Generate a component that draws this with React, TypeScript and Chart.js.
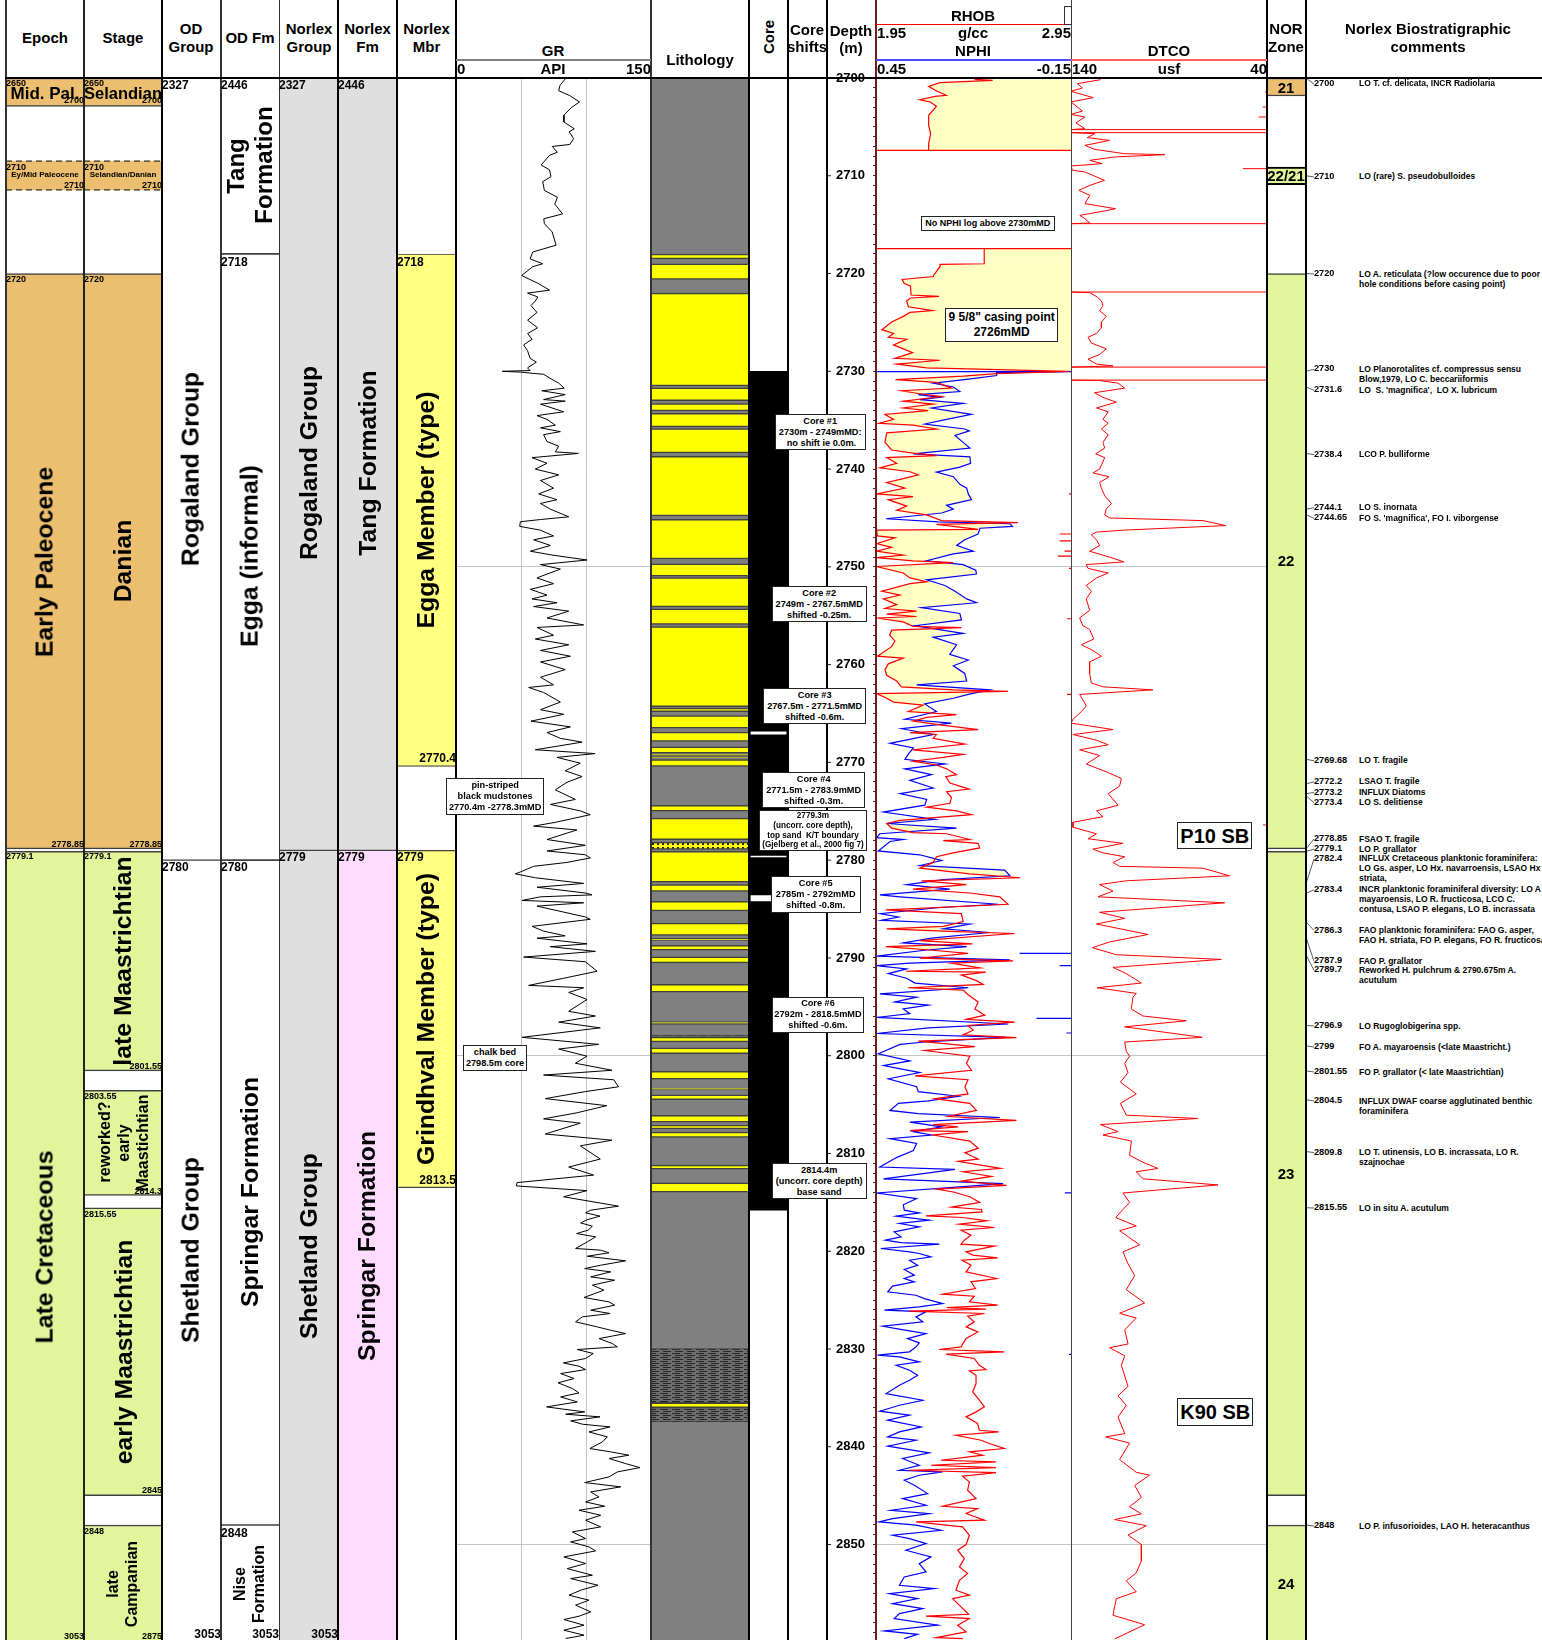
import React, { useEffect, useRef } from 'react';
import { Chart, registerables } from 'chart.js';
Chart.register(...registerables);

const DEPTH_MIN = 2700;
const PX_PER_M = 9.777;
const TOP = 78;
const HEIGHT = 1640 - TOP;
const DEPTH_MAX = DEPTH_MIN + HEIGHT / PX_PER_M;
const END = 2860;

/* ---------- interval tracks (depth tops and bases, m) ---------- */
const EPOCH_ORANGE = [[2700, 2702.9], [2720, 2778.85]];
const EPOCH_DASHED = [[2708.5, 2711.45]];
const EPOCH_GREEN = [[2779.1, END]];
const STAGE_ORANGE = [[2700, 2702.9], [2720, 2778.85]];
const STAGE_DASHED = [[2708.5, 2711.45]];
const STAGE_GREEN = [[2779.1, 2801.55], [2803.55, 2814.3], [2815.55, 2845], [2848, END]];
const OD_GROUP = [[2700, 2780], [2780, END]];
const OD_FM = [[2700, 2718], [2718, 2780], [2780, 2848], [2848, END]];
const NOR_GROUP = [[2700, 2779], [2779, END]];
const NOR_FM_GREY = [[2700, 2779]];
const NOR_FM_PINK = [[2779, END]];
const NOR_MBR = [[2718, 2770.4], [2779, 2813.5]];
const ZONE_ORANGE = [[2700, 2701.84]];
const ZONE_BOXED = [[2709.1, 2710.9]];
const ZONE_GREEN = [[2720, 2778.85], [2779.1, 2845], [2848, END]];
const DASH_DEPTHS = [2708.5, 2711.45];

const LITH_SHALE = [[2700, END]];
const LITH_SAND = [
  [2718, 2718.5], [2719, 2720.6], [2722, 2731.5], [2731.7, 2733], [2733.3, 2734.05], [2734.3, 2735.7], [2735.85, 2738.35],
  [2738.7, 2744.8], [2745.15, 2749.2], [2749.7, 2750.95], [2751.1, 2754.1], [2754.3, 2755.9], [2756.1, 2764.3],
  [2764.45, 2764.8], [2765.2, 2766.5], [2766.9, 2767.85], [2768.4, 2769.05], [2769.15, 2769.3], [2769.4, 2769.55],
  [2769.7, 2770.4], [2774.4, 2775], [2775.7, 2777.9], [2779.1, 2782.25], [2782.5, 2783.2], [2784.2, 2785.2],
  [2786.44, 2787.7], [2788, 2788.2], [2788.7, 2789.2], [2789.9, 2790.5], [2792.7, 2793.5], [2796.5, 2796.8],
  [2798.1, 2798.6], [2799.2, 2799.8], [2801.6, 2802.4], [2803.3, 2803.5], [2804, 2804.5], [2806.1, 2806.8],
  [2807.1, 2807.5], [2807.8, 2808.35], [2811.2, 2811.6], [2813, 2813.95], [2835.5, 2836],
];
const LITH_DOTTED = [[2778.15, 2778.9]];
const LITH_HATCHED = [[2797.9, 2798.1], [2829.95, 2835.5], [2836, 2837.45]];
const CORE_RECOVERED = [[2730, 2815.8]];
const CORE_GAPS = [[2766.85, 2767.15], [2779.55, 2779.7], [2783.6, 2784.2]];

/* ---------- log curves: [depth m, value]; null = no log ---------- */
const GR: any[] = [
[2700.1,84],[2700.75,80],[2701.3,79],[2701.8,87.5],[2702.45,95],[2703,89],[2703.8,83],[2704.5,83],[2705.2,91],[2705.5,87],[2706.2,90.5],[2706.8,87.5],[2707,74],[2707.6,78],[2707.9,72],[2708.9,65.5],[2709.4,72],[2710.1,73],[2710.6,66.7],[2711.5,68],[2712.2,78],[2712.9,76],[2713.9,82],[2714.4,67.5],[2714.9,68],[2715.75,74],[2717.1,77],[2717.8,59],[2718.5,57],[2719,66.7],[2719.3,59],[2720.2,50.5],[2721,63],[2721.7,72],[2722,55],[2722.4,63],
[2722.81,61],[2723.28,57.7],[2723.98,62.3],[2724.77,55.1],[2725.55,62.8],[2726.13,55.1],[2726.72,58.5],[2727.3,52],[2727.89,55],[2728.67,57],[2729.06,61.8],[2729.65,55],[2729.92,57],[2730,35.6],[2730.08,49.5],[2730.31,67.4],[2730.82,73.8],[2731.21,79],[2731.72,83.3],[2731.99,66],[2732.38,84],[2732.89,67.4],[2733.05,84],[2733.36,65],[2734.14,82.8],[2734.53,62.3],[2734.92,70],[2735.51,76.4],[2735.78,65],[2736.17,80.3],[2736.48,67.4],[2737.19,70],[2737.66,79],[2738.24,76.4],[2738.4,94.1],[2738.83,58.5],[2739.41,70],[2740,61],[2740.59,79],[2741.17,65],[2741.95,75],[2742.54,63.6],[2743.13,77.7],[2743.52,65],[2744.1,72.6],[2744.88,86.7],[2745.16,65],[2745.39,49.5],[2745.86,49],[2746.25,65],[2746.84,75],[2747.23,59.7],[2747.81,72.6],[2748.4,57.2],[2748.79,73.8],[2749.3,100.8],[2749.77,65],[2750.23,80.3],[2750.74,70],[2751.13,62.3],[2751.72,75],[2752.3,57.2],[2752.89,70],[2753.28,58.5],[2753.67,77.7],[2754.06,59.7],[2754.53,86.7],[2755.23,70],[2755.94,98.2],[2756.2,62.3],[2756.99,75],[2757.38,61],[2757.97,86.7],[2758.55,65],[2759.14,88],[2759.73,65],[2760.51,84],[2761.29,65],[2762.07,75],[2762.34,55.9],[2762.85,67.4],[2763.83,80.3],[2764.61,65],[2765.08,82.8],[2765.78,57.7],[2766.37,88],[2766.95,70],[2767.54,80.3],[2767.93,97],[2768.71,61],[2769.1,107],[2769.49,77.7],[2770.08,95.6],[2770.86,84],[2771.45,97],[2772.03,85.4],[2772.81,76.4],[2773.79,91.8],[2774.3,72.6],[2774.96,95.6],[2775.35,103.3],[2776.13,76.4],[2776.52,59.7],[2776.91,93],[2777.89,70],[2778.48,99.5],[2779.06,70],[2779.45,99.5],[2779.77,103.3],[2780.23,85.4],[2780.63,59.7],[2781.21,49.5],[2781.4,45.6],[2781.8,61],[2782.38,98.2],[2782.77,62.3],[2783.36,99.5],[2783.55,104.6],[2783.75,65],
[2784.12,50.8],[2784.36,98.2],[2784.7,62.3],[2785.81,99.5],[2786.05,103.3],[2786.77,58.5],[2787.26,67.4],[2787.74,84],[2787.98,62.3],[2788.56,100.8],[2788.85,72.6],[2789.33,107.2],[2789.91,52],[2790.39,99.5],[2791.36,108.5],[2792.08,82.8],[2792.81,55.9],[2793.05,98.2],[2793.53,86.7],[2794.25,100.8],[2795.46,86.7],[2795.94,107.2],[2796.57,79],[2797.15,111],[2798.12,50.8],[2798.84,109.7],[2799.32,79],[2800.05,100.8],[2800.77,91.8],[2801.49,120],[2801.98,67.4],[2802.46,121.3],[2803.18,125],[2803.67,99.5],[2804.39,68.7],[2805.11,116],[2805.84,93],[2806.46,67.4],[2806.9,95.6],[2808.01,68.7],[2808.64,120],[2809.22,95.6],[2810.57,111],[2811.39,86.7],[2812.21,105.9],[2812.98,47],[2813.32,46.4],[2813.8,100.8],[2814.43,82.8],[2815.39,125],
[2815.8,103.6],[2816.07,99.7],[2816.41,110.8],[2816.75,101.5],[2817.1,95.9],[2817.44,104.9],[2817.85,101.5],[2818.19,92.8],[2818.53,107.4],[2819.04,101],[2819.72,92],[2819.89,111.3],[2820.16,117.7],[2820.51,101],[2820.98,130.5],[2821.43,111.3],[2821.77,99],[2822.11,119],[2822.62,103.6],[2822.96,122],[2823.47,104.9],[2823.98,113.8],[2824.73,98.5],[2825.18,117.7],[2825.52,122],[2826.03,103.6],[2826.37,118.5],[2826.71,97.2],[2827.22,92],[2827.74,108.7],[2828.08,119],[2828.42,130.5],[2828.93,110],[2829.44,120.3],[2829.78,124.1],[2830.05,93.3],[2830.46,105.6],[2830.97,99.7],[2831.42,82.6],[2831.76,94.6],[2832.1,99.7],[2832.51,80.5],[2833.02,90.8],[2833.46,78.5],[2834.04,89.5],[2834.49,94.6],[2834.9,80.5],[2835.41,93.3],[2835.92,69.7],[2836.16,83],[2836.43,99],[2836.67,84.4],[2836.94,110.8],[2837.35,88.2],[2837.69,97.2],[2837.97,118.5],[2838.48,102.3],[2838.99,116.4],[2839.5,112.6],[2840.18,103],[2840.52,119],[2840.86,133],[2841.2,117.7],[2841.72,130.5],[2842.13,141.5],[2842.57,124.1],[2843.08,117.7],[2843.66,99],[2844.1,126.7],[2844.62,103.6],[2845.13,110],[2845.64,99.7],[2846.08,114.4],[2846.49,94.6],[2847,111.3],[2847.51,99.7],[2848.19,111.3],[2848.71,89.5],[2849.39,99.7],[2849.73,88.2],[2850.24,102.3],[2850.65,107.4],[2851.26,83],[2851.94,99.7],[2852.46,85.6],[2853.14,104.9],[2853.48,88.2],[2854.16,109.2],[2854.67,95.9],[2855.18,86.9],[2855.69,102.3],[2856.2,92],[2856.89,103.6],[2857.33,94.6],[2857.67,83],[2858.25,98.5],[2858.76,83],[2859.27,98.5],[2859.61,84.4],
];

const RHOB: any[] = [
[2700.14,2.455],[2700.24,2.548],[2700.48,2.278],[2700.85,2.22],[2701.26,2.253],[2701.77,2.31],[2701.88,2.253],[2702.22,2.175],[2702.45,2.228],[2702.9,2.26],[2703.82,2.22],[2704.84,2.22],[2705.69,2.23],[2706.72,2.22],[2707.4,2.22],[2707.4,1.95],[2707.4,2.95],null,
[2717.46,1.95],[2717.46,2.95],[2717.46,2.505],[2719,2.505],[2719.06,2.278],[2719.3,2.278],[2720.2,2.245],[2720.3,2.245],[2720.6,2.084],[2721,2.094],[2721.3,2.127],[2722.2,2.13],[2722.33,2.273],[2722.5,2.127],
[2722.81,2.107],[2723.4,2.116],[2723.79,2.24],[2723.98,2.124],[2724.38,2.09],[2724.96,2.03],[2725.74,1.98],[2726.13,2.04],[2726.52,2.013],[2726.72,2.107],[2727.3,2.04],[2728.09,2.138],[2728.67,2.047],[2728.87,2.278],[2729.26,2.056],[2729.65,2.21],[2730,2.94],
[2730.23,2.567],[2730.5,2.397],[2730.86,2.05],[2731.13,2.26],[2731.72,2.337],[2731.99,2.08],[2732.27,2.167],[2732.58,2.286],[2733.05,2.09],[2733.36,2.243],[2733.75,2.09],[2734.02,2.218],[2734.41,1.996],[2734.92,2.04],[2735.31,1.967],[2735.5,2.14],[2735.9,2.26],[2736.29,2.005],[2737.27,1.996],[2738.05,2.03],[2738.36,2.14],[2738.63,2.26],[2738.83,2.005],[2739.41,2.056],[2739.88,1.97],[2740.27,2.124],[2740.59,2.167],[2740.98,2.09],[2741.37,2.005],[2741.95,2.098],[2742.54,1.953],[2742.81,2.14],[2743.13,2.013],[2743.79,2.107],[2744.22,2.056],[2744.69,2.21],[2745.27,2.286],[2745.47,2.678],[2745.66,2.26],[2746.17,2.474],[2746.25,1.953],[2746.84,1.957],[2747.03,2.047],[2747.62,1.953],[2748,2.03],[2748.4,1.953],[2748.79,2.09],[2749.06,1.953],[2749.38,2.14],[2749.57,2.346],[2749.96,1.953],[2750.63,2.09],[2751.13,2.124],[2751.52,2.21],[2751.72,2.124],[2752.5,1.98],[2752.89,2.073],[2753.28,1.988],[2753.87,2.056],[2754.26,1.996],[2754.53,2.158],[2754.84,2.005],[2755.08,2.158],[2755.23,1.953],[2755.63,2.09],[2756.09,2.14],[2756.21,2.388],[2756.48,2.03],[2756.99,2.02],[2757.58,2.047],[2758.16,2.03],[2759.14,1.957],[2759.34,2.09],[2759.92,2.013],[2760.51,1.996],[2761.09,2.005],[2761.68,2.056],[2762.27,2.08],[2762.58,2.346],[2762.73,2.627],[2762.97,1.953],[2763.44,2.005],[2763.83,2.04],[2764.14,2.192],[2764.8,2.116],[2765.12,2.363],[2765.39,2.21],[2765.78,2.14],[2766.17,2.278],[2766.64,2.474],[2766.95,2.124],[2767.15,2.26],[2767.54,2.243],[2768.13,2.406],[2768.71,2.14],[2769.18,2.397],[2769.49,2.295],[2769.88,2.14],[2770.27,2.26],[2770.66,2.312],[2771.25,2.363],[2771.45,2.308],[2772.11,2.329],[2772.73,2.428],[2773,2.312],[2773.59,2.337],[2774.18,2.329],[2774.57,2.21],[2774.96,2.363],[2775.35,2.44],[2775.94,2.073],[2776.25,2.005],[2776.72,2.03],[2777.19,2.14],[2777.3,2.312],[2777.89,2.431],[2778,2.295],[2778.28,2.474],[2778.75,2.482],[2779.25,2.346],[2779.65,2.26],[2780.23,2.243],[2780.82,2.175],[2781.4,2.43],[2781.8,2.69],[2782.11,2.184],[2782.5,2.414],[2782.97,2.14],[2783.36,2.431],[2783.75,2.585],
[2784.51,2.627],[2785.09,2],[2785.47,2.388],[2786.29,2.397],[2786.77,2.295],[2787.02,2.005],[2787.26,2.295],[2787.5,2.661],[2788.22,2.175],[2788.56,2.445],[2788.85,2],[2789.19,2.226],[2789.53,2.422],[2790.01,2.175],[2790.3,2.653],[2790.54,2.337],[2791.02,2.482],[2791.36,2.104],[2791.46,2.513],[2791.75,2.388],[2792.32,2.465],[2792.71,2.499],[2793.05,2.115],[2793.29,2.397],[2793.77,2.422],[2794.5,2.474],[2795.22,2.457],[2795.85,2.508],[2796.28,2.414],[2796.57,2.661],[2796.91,2.422],[2797.39,2.448],[2797.87,2.397],[2798.16,2.67],[2798.5,2.167],[2799.08,2.457],[2799.47,2.2],[2800.05,2.431],[2800.77,2.414],[2801.49,2.44],[2802.07,2.15],[2802.46,2.422],[2803.18,2.406],[2803.91,2.422],[2804.39,2.252],[2804.87,2.431],[2805.6,2.465],[2806.22,2.32],[2806.61,2.67],[2807.04,2.243],[2807.28,2.371],[2807.67,2.124],[2807.77,2.422],[2808.11,2.243],[2808.73,2.431],[2809.46,2.474],[2809.94,2.406],[2810.57,2.474],[2810.81,2.371],[2811.53,2.588],[2811.87,2.397],[2812.35,2.542],[2812.83,2.388],[2813.27,2.619],[2813.65,2.26],[2813.94,2.346],[2814.43,2.431],[2815.01,2.482],[2815.49,2.337],[2815.73,2.491],
[2815.97,2.494],[2816.38,2.206],[2816.55,2.394],[2816.89,2.518],[2817.23,2.378],[2817.57,2.557],[2817.85,2.386],[2818.36,2.437],[2818.87,2.403],[2819.28,2.386],[2819.48,2.557],[2820.06,2.412],[2820.4,2.446],[2820.68,2.574],[2820.92,2.391],[2821.43,2.437],[2822.11,2.412],[2822.79,2.569],[2823.13,2.437],[2823.81,2.46],[2824.39,2.292],[2824.6,2.454],[2825.18,2.429],[2825.52,2.574],[2825.76,2.313],[2825.93,2.514],[2826.13,2.121],[2826.37,2.506],[2826.64,2.42],[2827.22,2.454],[2827.74,2.412],[2828.25,2.472],[2828.93,2.412],[2829.78,2.386],[2830.05,2.275],[2830.29,2.608],[2830.53,2.309],[2830.97,2.454],[2831.66,2.48],[2832.1,2.514],[2832.24,2.429],[2832.68,2.463],[2833.53,2.463],[2834.39,2.446],[2835.24,2.48],[2835.92,2.506],[2836.43,2.463],[2836.94,2.412],[2837.62,2.471],[2838.31,2.48],[2838.48,2.579],[2838.82,2.36],[2839.33,2.489],[2839.67,2.531],[2840.18,2.608],[2840.52,2.429],[2840.86,2.497],[2841.38,2.283],[2841.55,2.565],[2841.89,2.232],[2842.13,2.565],[2842.4,2.121],[2842.64,2.565],[2843.01,2.394],[2843.59,2.429],[2844.44,2.42],[2845.3,2.463],[2846.08,2.292],[2846.32,2.471],[2846.83,2.412],[2847.51,2.506],[2847.68,2.155],[2848.19,2.394],[2849.05,2.429],[2850,2.412],[2850.58,2.369],[2851.43,2.403],[2852.29,2.378],[2852.97,2.42],[2853.65,2.378],[2854.67,2.36],[2855.18,2.429],[2855.53,2.343],[2856.38,2.386],[2857.13,2.425],[2857.33,2.206],[2857.57,2.429],[2858.25,2.369],[2858.93,2.412],[2859.52,2.258],[2859.62,2.395],
];

const NPHI: any[] = [
[2730.04,0.45],[2730.04,-0.15],[2730.16,0.079],[2730.43,0.079],[2730.82,0.171],[2731.21,0.274],[2731.6,0.212],[2732.07,0.192],[2732.38,0.32],[2732.66,0.253],[2732.89,0.315],[2733.28,0.182],[2733.75,0.279],[2734.41,0.156],[2734.92,0.233],[2735.39,0.3],[2735.9,0.177],[2736.09,0.163],[2736.56,0.207],[2737.27,0.182],[2737.85,0.161],[2738.44,0.335],[2738.75,0.161],[2739.41,0.159],[2739.8,0.192],[2740.31,0.264],[2740.78,0.212],[2741.56,0.192],[2741.95,0.171],[2742.54,0.166],[2743.13,0.156],[2743.71,0.233],[2744.1,0.212],[2744.49,0.248],[2745.08,0.419],[2745.39,0.258],[2745.59,0.038],[2745.86,0.03],[2746.05,0.13],[2746.64,0.136],[2747.23,0.177],[2747.81,0.202],[2748.4,0.151],[2748.67,0.212],[2749.38,0.294],[2749.77,0.182],[2750.35,0.143],[2750.74,0.141],[2751.33,0.294],[2751.91,0.238],[2752.5,0.207],[2753.28,0.171],[2753.67,0.141],[2754.18,0.31],[2754.77,0.192],[2755.43,0.187],[2756.02,0.33],[2756.8,0.182],[2757.19,0.274],[2757.97,0.202],[2758.95,0.223],[2759.53,0.166],[2760.12,0.212],[2760.9,0.177],[2761.68,0.171],[2762.07,0.325],[2762.58,0.1],[2763.05,0.166],[2763.44,0.212],[2764.02,0.3],[2764.8,0.264],[2765.59,0.361],[2765.98,0.218],[2766.56,0.371],[2767.15,0.274],[2768.05,0.407],[2768.52,0.335],[2769.18,0.351],[2769.69,0.361],[2770.16,0.238],[2770.66,0.361],[2771.25,0.279],[2771.84,0.346],[2772.62,0.274],[2773.2,0.376],[2773.79,0.294],[2774.38,0.3],[2775.08,0.427],[2775.82,0.269],[2776.25,0.417],[2776.72,0.202],[2777.3,0.438],[2777.7,0.448],[2777.89,0.366],[2778.09,0.407],[2779.06,0.443],[2779.45,0.315],[2780.04,0.248],[2780.55,0.315],[2781.02,0.054],[2781.6,0.038],[2781.99,0.243],[2782.5,0.356],[2782.97,0.223],[2783.55,0.438],[2783.75,0.376],
[2784.51,0.074],[2784.84,0.253],[2785.47,0.438],[2785.81,0.381],[2786.15,0.433],[2786.53,0.161],[2787.02,0.243],[2787.4,0.1],[2787.98,0.279],[2788.46,0.366],[2788.85,0.171],[2789.19,0.294],[2789.81,0.448],[2790.2,0.038],[2790.54,0.346],[2790.78,0.448],[2791.12,0.356],[2791.6,0.412],[2792.08,0.356],[2792.57,0.33],[2793.05,0.166],[2793.68,0.438],[2794.01,0.325],[2794.5,0.392],[2794.83,0.289],[2795.22,0.366],[2795.7,0.346],[2796.09,0.448],[2796.76,0.043],[2797.15,0.289],[2797.73,0.448],[2798.12,0.049],[2798.6,0.3],[2798.84,0.376],[2799.8,0.443],[2800.53,0.346],[2801.01,0.427],[2801.73,0.315],[2802.36,0.412],[2803.18,0.325],[2803.67,0.32],[2804.15,0.197],[2804.63,0.289],[2804.87,0.381],[2805.6,0.407],[2805.93,0.32],[2806.32,0.069],[2806.8,0.346],[2807.28,0.248],[2807.77,0.335],[2808.11,0.279],[2808.49,0.407],[2808.97,0.325],[2809.7,0.335],[2810.42,0.387],[2811.39,0.438],[2811.63,0.207],[2812.59,0.427],[2813.08,0.059],[2814.04,0.448],[2814.62,0.325],[2815.25,0.366],
[2815.8,0.363],[2816.07,0.317],[2816.41,0.388],[2816.82,0.286],[2817.16,0.378],[2817.51,0.317],[2818.02,0.394],[2818.53,0.373],[2818.87,0.421],[2819.11,0.373],[2819.28,0.255],[2819.72,0.435],[2820.06,0.347],[2820.23,0.317],[2820.57,0.281],[2820.92,0.347],[2821.43,0.322],[2821.87,0.363],[2822.45,0.332],[2822.79,0.363],[2823.13,0.332],[2823.57,0.399],[2824.15,0.414],[2824.5,0.327],[2824.84,0.301],[2825.35,0.245],[2825.69,0.317],[2826.03,0.424],[2826.2,0.296],[2826.71,0.327],[2827.22,0.306],[2827.67,0.429],[2827.91,0.388],[2828.42,0.296],[2828.93,0.353],[2829.37,0.317],[2829.78,0.327],[2830.29,0.347],[2830.63,0.445],[2830.8,0.378],[2831.32,0.317],[2831.66,0.388],[2832.17,0.347],[2832.68,0.322],[2833.19,0.347],[2833.7,0.378],[2834.56,0.419],[2835.24,0.306],[2835.75,0.378],[2836.36,0.438],[2836.77,0.347],[2837.28,0.414],[2837.97,0.311],[2838.48,0.378],[2838.99,0.414],[2839.33,0.327],[2839.94,0.414],[2840.63,0.286],[2841.2,0.368],[2841.89,0.317],[2842.4,0.378],[2842.57,0.245],[2842.91,0.317],[2843.42,0.363],[2843.93,0.332],[2844.79,0.291],[2845.3,0.368],[2845.98,0.296],[2846.49,0.404],[2846.83,0.286],[2847.34,0.399],[2847.68,0.44],[2848.02,0.327],[2848.54,0.25],[2849.05,0.399],[2849.39,0.347],[2849.9,0.296],[2850.58,0.358],[2851.26,0.281],[2851.95,0.317],[2852.8,0.296],[2853.31,0.363],[2854.16,0.378],[2854.5,0.27],[2855.02,0.409],[2855.53,0.322],[2856.04,0.399],[2856.55,0.306],[2857.06,0.378],[2857.57,0.394],[2858.25,0.26],[2858.83,0.424],[2859.18,0.322],[2859.62,0.363],
];

const DTCO: any[] = [
[2700.17,124.9],[2700.58,136.7],[2701.02,134.2],[2701.36,140],[2702.01,128.7],[2702.45,140],[2703.38,134.2],[2703.72,140],[2703.99,132.9],[2704.6,137.5],[2705.18,132.9],[2705.28,140],[2705.28,40],null,
[2705.59,40],[2705.59,140],[2705.69,127.9],[2706.1,131.7],[2706.38,120.3],[2706.89,132.9],[2707.3,127.9],[2707.74,112.8],[2707.84,92.1],[2708.08,117.8],[2708.42,130.4],[2708.76,124.1],[2709,140],[2709.44,139.2],[2709.61,132.9],[2710.47,122.9],[2710.98,130.4],[2711.49,136],[2712,130.4],[2712.85,132.9],[2713.37,117.3],[2713.6,122.9],[2714.05,135.5],[2714.39,132.9],[2714.83,130.4],[2714.9,140],[2714.9,40],null,
[2721.89,40],[2721.89,140],[2721.96,130.4],[2722.4,126.6],[2722.81,124.5],[2723.28,123.7],[2723.79,125.4],[2724.38,122],[2724.96,124.5],[2725.55,124.5],[2726.13,127],[2726.52,131.3],[2727.11,129.6],[2727.7,122],[2728.28,125.4],[2728.75,131.3],[2729.26,127],[2729.45,118.6],[2729.57,140],[2729.57,40],null,
[2730.9,40],[2730.9,140],[2730.94,125.4],[2731.21,116],[2731.72,112.6],[2732.19,128],[2732.66,123.7],[2733.16,116.9],[2733.75,127],[2734.14,121],[2734.92,123.7],[2735.31,121],[2735.9,124.5],[2736.48,121],[2737.27,123.7],[2737.85,122.8],[2738.44,127.4],[2738.83,122.8],[2740,125.4],[2740.39,128.8],[2740.78,120.6],[2741.37,125.4],[2741.95,124.5],[2742.73,122.8],[2743.52,119.4],[2744.1,122],[2744.69,122.8],[2745,120.3],[2745.27,72.7],[2745.78,61.1],[2746.25,113.5],[2746.45,127],[2746.72,129.6],[2747.23,127],[2747.81,125.4],[2748.4,130.5],[2749.06,119.4],[2749.49,113.1],[2749.77,132.2],[2750.16,131.3],[2750.63,121],[2751.13,127],[2751.91,132.2],[2752.5,129.6],[2753.28,132.2],[2754.45,130.5],[2755.23,135.6],[2756.02,133.9],[2756.41,130.5],[2757.38,128.4],[2757.97,134.7],[2758.55,128.8],[2759.14,124.5],[2759.73,130.5],[2760.9,130.5],[2761.88,129.6],[2762.27,123.7],[2762.58,98.2],[2763.05,135.6],[2763.63,133.9],[2764.22,132.2],[2764.8,134.7],[2765.59,139],[2765.98,140],[2766.17,133.9],[2766.64,118.6],[2767.15,139],[2767.73,127],[2768.2,121],[2768.71,135.6],[2769.3,125.4],[2770.16,132.2],[2771.05,121],[2771.64,114.3],[2772.42,115.2],[2773.2,121],[2774.38,116],[2774.96,127],[2775.55,123.7],[2776.13,139],[2776.64,139],[2777.3,127],[2777.81,131.3],[2778.28,113.5],[2778.87,128.8],[2779.26,123.7],[2779.65,112.6],[2780.23,118.6],[2780.63,115.2],[2780.82,72.7],[2781.6,59.1],[2782.11,111.8],[2782.5,125.4],[2783.16,118.6],[2783.75,126.2],
[2784.36,61.6],[2785.33,125.4],[2785.95,112.6],[2786.53,127],[2787.6,100.7],[2788.37,120.3],[2788.95,129.1],[2789.67,116.9],[2790.15,63.3],[2790.97,118.6],[2791.6,111.8],[2792.57,104.1],[2793.05,126.7],[2793.63,106.7],[2794.01,108.4],[2795.22,109.2],[2795.94,103.3],[2796.43,81.2],[2797.05,112.6],[2798.12,73],[2798.6,112.6],[2799.56,111.8],[2800.05,110.1],[2800.77,112.6],[2801.73,110.9],[2802.7,114.8],[2803.91,106.7],[2804.87,114.8],[2806.08,111.8],[2806.42,75.2],[2807.04,125],[2807.77,116],[2808.11,123.7],[2808.73,109.2],[2810.18,110.1],[2810.9,103.3],[2811.53,95.6],[2811.87,106.7],[2812.59,103.3],[2813.22,65],[2814.04,113.5],[2815.01,110.1],[2815.73,113.5],[2816.55,117.2],[2817.42,106.7],[2817.9,115.2],[2819.35,105],[2820.07,113.5],[2821.28,110.9],[2822.49,107.5],[2823.93,111.8],[2825.29,102.4],[2826.35,115.2],[2826.83,106.7],[2828.04,112.6],[2829.48,110.9],[2829.87,120.3],[2830.69,112.6],[2831.66,114.3],[2833.83,110.9],[2834.79,116],[2835.76,111.8],[2836.96,116],[2838.65,112.6],[2838.99,122.3],[2839.62,110.1],[2841.31,115.2],[2842.61,106.7],[2842.9,99.9],[2843.96,107.5],[2845.17,104.1],[2846.13,110.1],[2846.86,104.1],[2847.44,117.7],[2848.07,101.6],[2849.03,110.9],[2849.99,104.1],[2851.68,104.1],[2852.89,106.7],[2853.71,111.8],[2854.82,106.7],[2855.54,116.9],[2857.23,118.6],[2858.2,102.4],[2859.65,117.7],
];

/* excursions that wrap in from the right-hand edge of a track */
const RHOB_WRAPS = [[2742.54,2.94],[2746.64,2.892],[2747.34,2.892],[2748.4,2.917],[2748.9,2.883],[2750.16,2.94],[2755.31,2.93],[2763.05,2.93]];
const NPHI_WRAPS = [[2789.53,0.008],[2790.78,-0.115],[2796.18,-0.044],[2797.68,-0.136],[2814.04,-0.131],[2830.55,-0.144]];
const DTCO_WRAPS = [[2701.43,41],[2702.97,42.2],[2703.99,44.2],[2709.27,52.3],[2776.4,42]];

/* ---------- text ---------- */
const BIO_PICKS: any[] = [
  ['2700',2700,84,[[83,'LO T. cf. delicata, INCR Radiolaria']]],
  ['2710',2710,177,[[176,'LO (rare) S. pseudobulloides']]],
  ['2720',2720,274,[[274,'LO A. reticulata (?low occurence due to poor'],[284,'hole conditions before casing point)']]],
  ['2730',2730,369.3,[[369,'LO Planorotalites cf. compressus sensu'],[378.7,'Blow,1979, LO C. beccariiformis']]],
  ['2731.6',2731.6,390.3,[[390,"LO  S. 'magnifica',  LO X. lubricum"]]],
  ['2738.4',2738.4,454.6,[[454,'LCO P. bulliforme']]],
  ['2744.1',2744.1,507.7,[[507,'LO S. inornata']]],
  ['2744.65',2744.65,518.4,[[518,"FO S. 'magnifica', FO I. viborgense"]]],
  ['2769.68',2769.68,760.8,[[760,'LO T. fragile']]],
  ['2772.2',2772.2,781.8,[[781,'LSAO T. fragile']]],
  ['2773.2',2773.2,792.5,[[792,'INFLUX Diatoms']]],
  ['2773.4',2773.4,802.8,[[802,'LO S. delitiense']]],
  ['2778.85',2778.85,839,[[839,'FSAO T. fragile']]],
  ['2779.1',2779.1,849.2,[[849,'LO P. grallator']]],
  ['2782.4',2782.4,859,[[858,'INFLUX Cretaceous planktonic foraminifera:'],[868,'LO Gs. asper, LO Hx. navarroensis, LSAO Hx'],[878,'striata,']]],
  ['2783.4',2783.4,889.8,[[888.5,'INCR planktonic foraminiferal diversity: LO A'],[898.8,'mayaroensis, LO R. fructicosa, LCO C.'],[909,'contusa, LSAO P. elegans, LO B. incrassata']]],
  ['2786.3',2786.3,930.5,[[930,'FAO planktonic foraminifera: FAO G. asper,'],[940,'FAO H. striata, FO P. elegans, FO R. fructicosa']]],
  ['2787.9',2787.9,961.3,[[961,'FAO P. grallator']]],
  ['2789.7',2789.7,970.2,[[969.7,'Reworked H. pulchrum & 2790.675m A.'],[980,'acutulum']]],
  ['2796.9',2796.9,1026,[[1026,'LO Rugoglobigerina spp.']]],
  ['2799',2799,1047,[[1047,'FO A. mayaroensis (<late Maastricht.)']]],
  ['2801.55',2801.55,1072,[[1072,'FO P. grallator (< late Maastrichtian)']]],
  ['2804.5',2804.5,1101,[[1100.5,'INFLUX DWAF coarse agglutinated benthic'],[1111,'foraminifera']]],
  ['2809.8',2809.8,1152.6,[[1152,'LO T. utinensis, LO B. incrassata, LO R.'],[1162,'szajnochae']]],
  ['2815.55',2815.55,1208,[[1208,'LO in situ A. acutulum']]],
  ['2848',2848,1526,[[1526,'LO P. infusorioides, LAO H. heteracanthus']]],
];

/* x, y, size, align, rotated, text */
const LABELS: any[] = [
  // header
  [45,37,15,'c',0,'Epoch'],[123,37,15,'c',0,'Stage'],[191,28,15,'c',0,'OD'],[191,46,15,'c',0,'Group'],[250,37,15,'c',0,'OD Fm'],
  [309,28,15,'c',0,'Norlex'],[309,46,15,'c',0,'Group'],[367.5,28,15,'c',0,'Norlex'],[367.5,46,15,'c',0,'Fm'],[426.5,28,15,'c',0,'Norlex'],[426.5,46,15,'c',0,'Mbr'],
  [553,50,15,'c',0,'GR'],[553,68,15,'c',0,'API'],[457,68,15,'l',0,'0'],[651,68,15,'r',0,'150'],[700,59,15,'c',0,'Lithology'],[768,37,15,'c',1,'Core'],
  [807,29,15,'c',0,'Core'],[807,46,15,'c',0,'shifts'],[851,30,15,'c',0,'Depth'],[851,47,15,'c',0,'(m)'],
  [973,15,15,'c',0,'RHOB'],[877,32,15,'l',0,'1.95'],[973,32,15,'c',0,'g/cc'],[1071,32,15,'r',0,'2.95'],[973,50,15,'c',0,'NPHI'],[877,68,15,'l',0,'0.45'],[1071,68,15,'r',0,'-0.15'],
  [1169,50,15,'c',0,'DTCO'],[1072,68,15,'l',0,'140'],[1169,68,15,'c',0,'usf'],[1267,68,15,'r',0,'40'],
  [1286,28,15,'c',0,'NOR'],[1286,46,15,'c',0,'Zone'],[1428,28,15,'c',0,'Norlex Biostratigraphic'],[1428,46,15,'c',0,'comments'],
  // epoch
  [6,83,9,'l',0,'2650'],[84,100,9,'r',0,'2700'],[45,92.5,17,'c',0,'Mid. Pal.'],[6,167,9,'l',0,'2710'],[45,175,8,'c',0,'Ey/Mid Paleocene'],[84,185,9,'r',0,'2710'],[6,279,9,'l',0,'2720'],
  [45,562,24.8,'c',1,'Early Paleocene'],[84,844,9,'r',0,'2778.85'],[6,856,9,'l',0,'2779.1'],[45,1246.5,24.8,'c',1,'Late Cretaceous'],[84,1636,9,'r',0,'3053'],
  // stage
  [84,83,9,'l',0,'2650'],[162,100,9,'r',0,'2700'],[123,92.5,16.5,'c',0,'Selandian'],[84,167,9,'l',0,'2710'],[123,175,8,'c',0,'Selandian/Danian'],[162,185,9,'r',0,'2710'],[84,279,9,'l',0,'2720'],
  [123,561,24.8,'c',1,'Danian'],[162,844,9,'r',0,'2778.85'],[84,856,9,'l',0,'2779.1'],[123,961,24.8,'c',1,'late Maastrichtian'],[162,1066,9,'r',0,'2801.55'],
  [84,1095.5,9,'l',0,'2803.55'],[105,1142,16,'c',1,'reworked?'],[124,1143,16,'c',1,'early'],[143,1143,16,'c',1,'Maastichtian'],[162,1190.6,9,'r',0,'2814.3'],
  [84,1213.5,9,'l',0,'2815.55'],[124,1352,24.8,'c',1,'early Maastrichtian'],[162,1490,9,'r',0,'2845'],[84,1530.6,9,'l',0,'2848'],[113,1584,16,'c',1,'late'],[132,1584,16,'c',1,'Campanian'],[162,1636,9,'r',0,'2875'],
  // OD group and formation
  [162,85,12,'l',0,'2327'],[191,469,24.8,'c',1,'Rogaland Group'],[162,867,12,'l',0,'2780'],[191,1250,24.8,'c',1,'Shetland Group'],[221,1634,12,'r',0,'3053'],
  [221,85,12,'l',0,'2446'],[236,166,24,'c',1,'Tang'],[264,165,24,'c',1,'Formation'],[221,262,12,'l',0,'2718'],[250,556,24.8,'c',1,'Egga (informal)'],[221,867,12,'l',0,'2780'],[250,1192,24.8,'c',1,'Springar Formation'],
  [221,1533,12,'l',0,'2848'],[240,1584,16,'c',1,'Nise'],[259,1584,16,'c',1,'Formation'],[279,1634,12,'r',0,'3053'],
  // Norlex group, formation, member
  [279,85,12,'l',0,'2327'],[309,463,24.8,'c',1,'Rogaland Group'],[279,857,12,'l',0,'2779'],[309,1245.5,24.8,'c',1,'Shetland Group'],[338,1634,12,'r',0,'3053'],
  [338,85,12,'l',0,'2446'],[367.5,463,24.8,'c',1,'Tang Formation'],[338,857,12,'l',0,'2779'],[367,1246,24.8,'c',1,'Springar Formation'],
  [397,262,12,'l',0,'2718'],[426,510,24.8,'c',1,'Egga Member (type)'],[456,758,12,'r',0,'2770.4'],[397,857,12,'l',0,'2779'],[426,1019,24.8,'c',1,'Grindhval Member (type)'],[456,1180,12,'r',0,'2813.5'],
  // NOR zones
  [1286,86.5,15,'c',0,'21'],[1286,175,15,'c',0,'22/21'],[1286,560,15,'c',0,'22'],[1286,1173,15,'c',0,'23'],[1286,1583,15,'c',0,'24'],
];

/* left, top, right, bottom, size, lines */
const BOXES: any[] = [
  [774.7,414,865.7,450,9.2,'Core #1\n2730m - 2749mMD:\n no shift ie 0.0m.'],
  [771.7,586,866.7,622,9.2,'Core #2\n2749m - 2767.5mMD\nshifted -0.25m.'],
  [763.3,688,866,724,9.2,'Core #3\n2767.5m - 2771.5mMD\nshifted -0.6m.'],
  [762.3,772,865,808,9.2,'Core #4\n2771.5m - 2783.9mMD\nshifted -0.3m.'],
  [759.3,810,866.7,851,8.2,'2779.3m\n(uncorr. core depth),\ntop sand  K/T boundary\n(Gjelberg et al., 2000 fig 7)'],
  [770.7,876,860.7,913,9.2,'Core #5\n2785m - 2792mMD\nshifted -0.8m.'],
  [771.7,996.7,864.3,1032.6,9.2,'Core #6\n2792m - 2818.5mMD\nshifted -0.6m.'],
  [771.7,1163.3,866.7,1199,9.2,'2814.4m\n(uncorr. core depth)\nbase sand'],
  [446,778.4,544.3,815,9.2,'pin-striped\nblack mudstones\n2770.4m -2778.3mMD'],
  [463.3,1044.9,526.7,1070.8,9.2,'chalk bed\n2798.5m core'],
  [921,216.3,1054.6,231.3,9,'No NPHI log above 2730mMD'],
  [945,308.4,1058.3,342,12,'9 5/8" casing point\n2726mMD'],
  [1177.3,822.4,1252.3,849,20,'P10 SB'],
  [1177.3,1398.4,1253.3,1426,20,'K90 SB'],
];

/* x, width, colour */
const RULES: any[] = [
  [5,2,'#333'],[83,2,'#222'],[161,2,'#000'],[220,1.5,'#333'],[278.5,1.5,'#333'],[337,2,'#000'],[396,2,'#000'],[455,2,'#000'],[650,2,'#333'],[748,2,'#000'],
  [787,2,'#000'],[826,2,'#000'],[875,2,'#6d1f1f'],[1070.5,1.5,'#444'],[1266,2,'#000'],[1305,2,'#000'],
];

const COL = { red: '#ff0000', blue: '#0000ff', orange: '#EBBF6F', green: '#E3F59B', greyBand: '#DFDFDF', pink: '#FFDCFF', mbr: '#FFFF80', sand: '#FFFF00', shale: '#808080', fill: '#FFFFC0', edge: '#404040' };
const FONT = '"Liberation Sans", Arial, sans-serif';

/* ---------- chart helpers ---------- */
const base = (extra: any = {}) => ({
  animation: false, responsive: false, maintainAspectRatio: false, events: [],
  layout: { padding: 0 },
  plugins: { legend: { display: false }, tooltip: { enabled: false } },
  ...extra,
});
const hiddenY = { type: 'linear', min: DEPTH_MIN, max: DEPTH_MAX, reverse: true, display: false };
const gridY = {
  type: 'linear', min: DEPTH_MIN, max: DEPTH_MAX, reverse: true, display: true,
  ticks: { display: false, stepSize: 50, includeBounds: false }, border: { display: false },
  grid: { color: '#C4C4C4', drawTicks: false, lineWidth: 1 },
};
const bandSet = (bands: number[][], color: any, edge: number, over: any = {}) => ({
  data: bands.map(([a, b]) => ({ x: 'band', y: [a, b] })),
  backgroundColor: color, borderColor: COL.edge,
  borderWidth: { top: edge, bottom: edge, left: 0, right: 0 }, borderSkipped: false,
  barPercentage: 1, categoryPercentage: 1, grouped: false, ...over,
});
const dashPlugin = (depths: number[]) => ({
  id: 'dashEdges',
  afterDatasetsDraw(chart: any) {
    const { ctx, chartArea: a, scales: { y } } = chart;
    ctx.save(); ctx.strokeStyle = '#333'; ctx.lineWidth = 1.2; ctx.setLineDash([6, 4]);
    depths.forEach((d) => { const p = y.getPixelForValue(d); ctx.beginPath(); ctx.moveTo(a.left, p); ctx.lineTo(a.right, p); ctx.stroke(); });
    ctx.restore();
  },
});
const bandChart = (datasets: any[], plugins: any[] = []) => ({
  type: 'bar',
  data: { labels: ['band'], datasets },
  options: base({ scales: { x: { type: 'category', labels: ['band'], display: false }, y: hiddenY } }),
  plugins,
});
const curve = (s: any[]) => s.map((p) => (p ? { x: p[1], y: p[0] } : { x: null, y: null }));
const wraps = (s: number[][], edge: number) => s.flatMap(([d, v]) => [{ x: edge, y: d }, { x: v, y: d }, { x: null, y: null }]);
const lineSet = (data: any[], color: string, width: number, xAxisID = 'x') => ({
  data, borderColor: color, borderWidth: width, pointRadius: 0, showLine: true, tension: 0, xAxisID, spanGaps: false, fill: false,
});
const valueAt = (s: any[], d: number) => {
  for (let i = 0; i < s.length - 1; i++) {
    const a = s[i], b = s[i + 1];
    if (a && b && a[0] <= d && d <= b[0] && b[0] > a[0]) return a[1] + ((b[1] - a[1]) * (d - a[0])) / (b[0] - a[0]);
  }
  return null;
};
const crossoverFill = {
  id: 'crossover',
  beforeDatasetsDraw(chart: any) {
    const { ctx, chartArea: a, scales: { x, xn, y } } = chart;
    ctx.save(); ctx.fillStyle = COL.fill;
    const step = 0.05;
    for (let d = DEPTH_MIN; d < DEPTH_MAX; d += step) {
      const r = valueAt(RHOB, d);
      if (r === null) continue;
      const n = valueAt(NPHI, d);
      if (n === null && d > 2730.1) continue;
      const left = x.getPixelForValue(r);
      const right = n === null ? a.right : xn.getPixelForValue(n);
      if (right > left) ctx.fillRect(left, y.getPixelForValue(d), right - left, y.getPixelForValue(d + step) - y.getPixelForValue(d) + 0.3);
    }
    ctx.restore();
  },
};
const depthTicks = {
  id: 'depthTicks',
  afterDraw(chart: any) {
    const { ctx, scales: { y } } = chart;
    ctx.save(); ctx.strokeStyle = '#222'; ctx.lineWidth = 1;
    for (let d = DEPTH_MIN + 10; d < DEPTH_MAX; d += 10) { const p = y.getPixelForValue(d); ctx.beginPath(); ctx.moveTo(0, p); ctx.lineTo(4, p); ctx.stroke(); }
    ctx.restore();
  },
};
const makePatterns = (ctx: CanvasRenderingContext2D) => {
  const tile = (w: number, h: number, draw: (c: CanvasRenderingContext2D) => void) => {
    const cv = document.createElement('canvas'); cv.width = w; cv.height = h;
    draw(cv.getContext('2d') as CanvasRenderingContext2D);
    return ctx.createPattern(cv, 'repeat');
  };
  return {
    hatch: tile(12, 4, (c) => { c.fillStyle = '#6E6E6E'; c.fillRect(0, 0, 12, 4); c.fillStyle = '#262626'; c.fillRect(0, 1, 8, 1); c.fillRect(9, 3, 3, 1); c.fillRect(0, 3, 5, 1); }),
    dots: tile(5, 4, (c) => { c.fillStyle = COL.sand; c.fillRect(0, 0, 5, 4); c.fillStyle = '#222'; c.fillRect(1, 1, 2, 2); }),
  };
};

/* ---------- tracks ---------- */
const xTrack = (min: number, max: number, reverse = false) => ({ type: 'linear', min, max, reverse, display: false });
const TRACKS: any[] = [
  { id: 'epoch', left: 6, right: 84, make: () => bandChart([bandSet(EPOCH_ORANGE, COL.orange, 1.5), bandSet(EPOCH_DASHED, COL.orange, 0), bandSet(EPOCH_GREEN, COL.green, 1.5)], [dashPlugin(DASH_DEPTHS)]) },
  { id: 'stage', left: 84, right: 162, make: () => bandChart([bandSet(STAGE_ORANGE, COL.orange, 1.5), bandSet(STAGE_DASHED, COL.orange, 0), bandSet(STAGE_GREEN, COL.green, 1.5)], [dashPlugin(DASH_DEPTHS)]) },
  { id: 'odGroup', left: 162, right: 221, make: () => bandChart([bandSet(OD_GROUP, '#FFFFFF', 1)]) },
  { id: 'odFm', left: 221, right: 279, make: () => bandChart([bandSet(OD_FM, '#FFFFFF', 1.2)]) },
  { id: 'norGroup', left: 279, right: 338, make: () => bandChart([bandSet(NOR_GROUP, COL.greyBand, 1)]) },
  { id: 'norFm', left: 338, right: 397, make: () => bandChart([bandSet(NOR_FM_GREY, COL.greyBand, 1), bandSet(NOR_FM_PINK, COL.pink, 1)]) },
  { id: 'norMbr', left: 397, right: 456, make: () => bandChart([bandSet(NOR_MBR, COL.mbr, 1.2)]) },
  {
    id: 'lith', left: 651, right: 749,
    make: (ctx: any) => {
      const pat = makePatterns(ctx);
      return bandChart([
        bandSet(LITH_SAND, COL.sand, 1.5, { order: 1 }),
        bandSet(LITH_DOTTED, pat.dots, 1.5, { order: 2 }),
        bandSet(LITH_HATCHED, pat.hatch, 1, { order: 3 }),
        bandSet(LITH_SHALE, COL.shale, 0, { order: 4 }),
      ]);
    },
  },
  {
    id: 'core', left: 749, right: 788,
    make: () => bandChart([
      bandSet(CORE_GAPS, '#FFFFFF', 0, { barPercentage: 0.92, order: 1 }),
      bandSet(CORE_RECOVERED, '#000000', 0, { order: 2 }),
    ]),
  },
  {
    id: 'gr', left: 456, right: 651,
    make: () => ({
      type: 'scatter',
      data: { datasets: [lineSet(curve(GR), '#000000', 1)] },
      options: base({ scales: {
        x: { type: 'linear', min: 0, max: 150, display: true, ticks: { display: false, stepSize: 50 }, border: { display: false }, grid: { color: '#C4C4C4', drawTicks: false } },
        y: gridY,
      } }),
    }),
  },
  {
    id: 'depth', left: 827, right: 876, top: 58,
    make: () => ({
      type: 'scatter',
      data: { datasets: [{ data: [] }] },
      options: base({
        layout: { padding: { top: 20 } },
        scales: {
          x: { type: 'linear', display: false },
          y: {
            type: 'linear', min: DEPTH_MIN, max: DEPTH_MAX, reverse: true, position: 'left',
            afterFit: (s: any) => { s.width = 46; s.paddingTop = 0; s.paddingBottom = 0; },
            ticks: {
              stepSize: 1, autoSkip: false, includeBounds: false, padding: 8, color: '#000',
              font: { family: FONT, size: 13, weight: 'bold' },
              callback: (v: number) => (v % 10 === 0 ? String(v) : ''),
            },
            border: { display: false }, grid: { color: '#333', drawTicks: false },
          },
        },
      }),
      plugins: [depthTicks],
    }),
  },
  {
    id: 'rhob', left: 876, right: 1071,
    make: () => ({
      type: 'scatter',
      data: { datasets: [
        lineSet(curve(RHOB), COL.red, 1.2),
        lineSet(wraps(RHOB_WRAPS, 2.95), COL.red, 1.2),
        lineSet(curve(NPHI), COL.blue, 1.2, 'xn'),
        lineSet(wraps(NPHI_WRAPS, -0.15), COL.blue, 1.2, 'xn'),
      ] },
      options: base({ scales: { x: xTrack(1.95, 2.95), xn: xTrack(-0.15, 0.45, true), y: gridY } }),
      plugins: [crossoverFill],
    }),
  },
  {
    id: 'dtco', left: 1071, right: 1267,
    make: () => ({
      type: 'scatter',
      data: { datasets: [lineSet(curve(DTCO), COL.red, 1), lineSet(wraps(DTCO_WRAPS, 40), COL.red, 1)] },
      options: base({ scales: { x: xTrack(40, 140, true), y: gridY } }),
    }),
  },
  {
    id: 'zone', left: 1267, right: 1306,
    make: () => bandChart([bandSet(ZONE_ORANGE, COL.orange, 1.5), bandSet(ZONE_BOXED, COL.green, 2, { borderColor: '#000' }), bandSet(ZONE_GREEN, COL.green, 1.5)]),
  },
  {
    id: 'leaders', left: 1306, right: 1314,
    make: () => ({
      type: 'scatter',
      data: { datasets: [lineSet(
        BIO_PICKS.flatMap((p) => [{ x: 0, y: p[1] }, { x: 1, y: DEPTH_MIN + (p[2] - TOP) / PX_PER_M }, { x: null, y: null }]),
        '#333', 0.8,
      )] },
      options: base({ scales: { x: xTrack(0, 1), y: hiddenY } }),
    }),
  },
];

function Track({ def }: any) {
  const ref = useRef<HTMLCanvasElement>(null);
  useEffect(() => {
    const canvas = ref.current as HTMLCanvasElement;
    const chart = new Chart(canvas, def.make(canvas.getContext('2d')));
    return () => chart.destroy();
  }, [def]);
  const top = def.top ?? TOP;
  const w = def.right - def.left;
  const h = 1640 - top;
  return <canvas ref={ref} width={w} height={h} style={{ position: 'absolute', left: def.left, top, width: w, height: h, display: 'block' }} />;
}

const T = ({ x, y, s, a, r, children }: any) => (
  <div style={{
    position: 'absolute', left: x, top: y, fontSize: s, fontWeight: 700, lineHeight: 1, whiteSpace: 'pre', zIndex: 3,
    transform: `translate(${a === 'l' ? '0' : a === 'r' ? '-100%' : '-50%'},-50%)${r ? ' rotate(-90deg)' : ''}`,
  }}>{children}</div>
);
const Rule = ({ x, y, w, h, c }: any) => <div style={{ position: 'absolute', left: x, top: y, width: w, height: h, background: c, zIndex: 2 }} />;

export default function App() {
  return (
    <div style={{ position: 'relative', width: 1542, height: 1640, overflow: 'hidden', background: '#fff', fontFamily: FONT, color: '#000' }}>
      <style>{'html,body{margin:0;padding:0;overflow:hidden}'}</style>
      {TRACKS.map((d) => <Track key={d.id} def={d} />)}
      {RULES.map(([x, w, c], i) => <Rule key={i} x={x} y={0} w={w} h={1640} c={c} />)}
      <Rule x={5} y={77} w={1537} h={2} c="#000" />
      <Rule x={456} y={59} w={195} h={2} c="#808080" />
      <Rule x={876} y={23.5} w={195} h={1.5} c="#ff0000" />
      <Rule x={876} y={59} w={195} h={2} c="#4a4aff" />
      <Rule x={1071} y={59} w={196} h={2} c="#ff6060" />
      <div style={{ position: 'absolute', left: 1064, top: 6, width: 6, height: 17, border: '1px solid #333', background: '#fff', zIndex: 2 }} />
      {LABELS.map(([x, y, s, a, r, t], i) => <T key={i} x={x} y={y} s={s} a={a} r={r}>{t}</T>)}
      {BIO_PICKS.map((p) => (
        <React.Fragment key={p[0]}>
          <T x={1314} y={p[2]} s={9.2} a="l">{p[0]}</T>
          {p[3].map(([y, t]: any, i: number) => <T key={i} x={1359} y={y} s={8.5} a="l">{t}</T>)}
        </React.Fragment>
      ))}
      {BOXES.map(([l, t, r, b, s, text], i) => (
        <div key={i} style={{
          position: 'absolute', left: l, top: t, width: r - l, height: b - t, boxSizing: 'border-box', background: '#fff', border: '1px solid #222', zIndex: 4,
          display: 'flex', alignItems: 'center', justifyContent: 'center', textAlign: 'center', whiteSpace: 'pre', fontSize: s, fontWeight: 700, lineHeight: s >= 20 ? 1 : s >= 12 ? '15px' : s < 9 ? '9.8px' : '11px', overflow: 'hidden',
        }}>{text}</div>
      ))}
    </div>
  );
}
